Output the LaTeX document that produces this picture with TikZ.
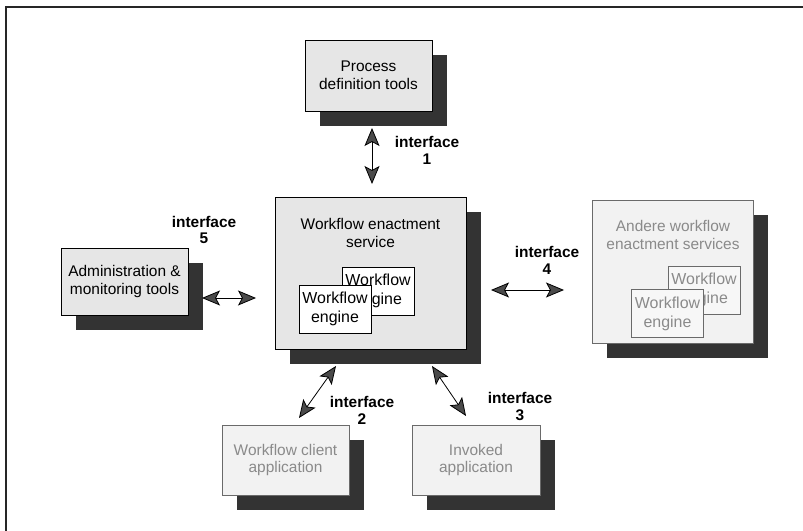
\documentclass[tikz,border=0pt]{standalone}
\usepackage{fontspec}
\setmainfont{Liberation Sans}
\usetikzlibrary{arrows.meta,shadows}

\definecolor{boxfill}{HTML}{E6E6E6}
\definecolor{shadefill}{HTML}{333333}
\definecolor{palefill}{HTML}{F2F2F2}
\definecolor{paleline}{HTML}{6A6A6A}
\definecolor{paletext}{HTML}{8A8A8A}
\definecolor{tipfill}{HTML}{4A4A4A}

\tikzset{
  box/.style={draw=black, line width=0.8bp, fill=boxfill, align=center,
    inner sep=2bp, font=\fontsize{15.5}{18}\selectfont,
    drop shadow={shadow xshift=15bp, shadow yshift=-15bp, fill=shadefill, opacity=1}},
  palebox/.style={box, draw=paleline, fill=palefill, text=paletext},
  engine/.style={draw=black, line width=0.8bp, fill=white, align=center,
    inner sep=1bp, minimum width=72bp, minimum height=48bp,
    font=\fontsize{16}{19}\selectfont},
  paleengine/.style={engine, draw=paleline, fill=palefill!60!white, text=paletext},
  iface/.style={align=center, font=\bfseries\fontsize{15.5}{17}\selectfont},
  tip/.style={},
  link/.style={line width=0.8bp,
    {Stealth[length=18bp,width=15bp,inset=4bp,fill=tipfill]}-{Stealth[length=18bp,width=15bp,inset=4bp,fill=tipfill]}},
  frame/.style={line width=1.5bp, draw=black!85}
}

\begin{document}
\begin{tikzpicture}[x=1bp,y=-1bp]
  \useasboundingbox (0,0) rectangle (803,531);

  % frame lines along the top and left edge
  \coordinate (fa) at (803,7);
  \coordinate (fb) at (6,7);
  \coordinate (fc) at (6,531);
  \draw[frame] (fa) -- (fb) -- (fc);

  % main components
  \node[box, minimum width=127bp, minimum height=71bp] (proc) at (368.5,75.5)
    {Process\\definition tools};
  \node[box, minimum width=191bp, minimum height=152bp] (wes) at (370.5,273) {};
  \node[align=center, font=\fontsize{15.5}{18}\selectfont] (westext) at (370.5,233)
    {Workflow enactment\\service};
  \node[engine] (eng2) at (378,291) {Workflow\\engine};
  \node[engine] (eng1) at (335,309) {Workflow\\engine};

  \node[box, minimum width=127bp, minimum height=67bp] (admin) at (124.5,281.5)
    {Administration \&\\monitoring tools};

  \node[palebox, minimum width=161bp, minimum height=143bp] (other) at (672.5,271.5) {};
  \node[align=center, text=paletext, font=\fontsize{15.5}{18}\selectfont] (othertext) at (673,235)
    {Andere workflow\\enactment services};
  \node[paleengine] (oeng2) at (704,290) {Workflow\\engine};
  \node[paleengine] (oeng1) at (667.5,313.5) {Workflow\\engine};

  \node[palebox, minimum width=127bp, minimum height=70bp] (client) at (285.5,460)
    {Workflow client\\application};
  \node[palebox, minimum width=128bp, minimum height=70bp] (invoked) at (476,460)
    {Invoked\\application};

  % connector end points
  \coordinate (i1a) at (372,128);
  \coordinate (i1b) at (372,184);
  \coordinate (i5a) at (202,298);
  \coordinate (i5b) at (256,298);
  \coordinate (i4a) at (491,290);
  \coordinate (i4b) at (564,290);
  \coordinate (i2a) at (336,366);
  \coordinate (i2b) at (299,418);
  \coordinate (i3a) at (432,366);
  \coordinate (i3b) at (466,416);

  \draw[link] (i1a) -- (i1b);
  \draw[link] (i5a) -- (i5b);
  \draw[link] (i4a) -- (i4b);
  \draw[link] (i2a) -- (i2b);
  \draw[link] (i3a) -- (i3b);

  % interface labels
  \node[iface] (l1) at (427,150) {interface\\1};
  \node[iface] (l5) at (204,230) {interface\\5};
  \node[iface] (l4) at (547,260.5) {interface\\4};
  \node[iface] (l2) at (362,410) {interface\\2};
  \node[iface] (l3) at (520,406.5) {interface\\3};
\end{tikzpicture}
\end{document}
